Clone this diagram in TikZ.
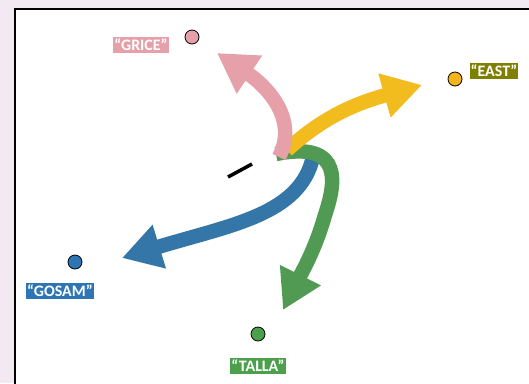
\documentclass[tikz,border=0pt]{standalone}
\usepackage{fontspec}
\setmainfont{Carlito}
\usetikzlibrary{arrows.meta}
\definecolor{bgLilac}{RGB}{243,233,243}
\definecolor{griceCol}{RGB}{229,160,170}
\definecolor{eastCol}{RGB}{242,187,30}
\definecolor{eastTag}{RGB}{128,128,0}
\definecolor{gosamCol}{RGB}{52,118,168}
\definecolor{gosamTag}{RGB}{46,117,182}
\definecolor{tallaCol}{RGB}{80,154,84}
\definecolor{tallaTag}{RGB}{76,160,76}
\tikzstyle{dotNode}=[draw,circle,minimum size=14bp,inner sep=0pt,line width=0.8bp]
\tikzstyle{tagNode}=[text=white,font=\bfseries\fontsize{16}{19}\selectfont,inner xsep=1bp,inner ysep=2.5bp]
\tikzstyle{bigArrow}=[line width=14.5bp,-{Triangle[length=39bp,width=43bp]}]

\begin{document}
\begin{tikzpicture}[x=1bp,y=-1bp]
	\useasboundingbox (0,0) rectangle (529,383);
	\clip (0,0) rectangle (529,383);
	\fill[bgLilac] (0,0) rectangle (529,383);
	\draw[line width=1.6bp,fill=white] (15,9) rectangle (545,400);

	\node[dotNode, fill=griceCol] (griceDot) at (192,37) {};
	\node[dotNode, fill=eastCol!90!orange] (eastDot) at (455,79) {};
	\node[dotNode, fill=gosamTag] (gosamDot) at (75,262) {};
	\node[dotNode, fill=tallaTag] (tallaDot) at (258,334) {};

	\node[tagNode, fill=griceCol] (griceTag) at (141,45) {“GRICE”};
	\node[tagNode, fill=eastTag] (eastTag) at (494,71) {“EAST”};
	\node[tagNode, fill=gosamTag] (gosamTag) at (60,291) {“GOSAM”};
	\node[tagNode, fill=tallaTag] (tallaTag) at (258,366) {“TALLA”};

	\coordinate (pinkFoot) at (279,157);
	\coordinate (yellowFoot) at (287,150);
	\coordinate (blueFoot) at (313,157);
	\coordinate (greenFoot) at (276,154);
	\coordinate (pinkTip) at (217,53);
	\coordinate (yellowTip) at (422,85);
	\coordinate (blueTip) at (122,258);
	\coordinate (greenTip) at (283,310);

	\draw[bigArrow, gosamCol] (blueFoot) .. controls (300,215) and (230,225) .. (blueTip);
	\draw[bigArrow, tallaCol] (greenFoot) .. controls (345,140) and (335,185) .. (325,215)
		.. controls (315,250) and (302,272) .. (greenTip);
	\draw[bigArrow, eastCol] (yellowFoot) .. controls (320,120) and (350,105) .. (yellowTip);
	\draw[bigArrow, griceCol] (pinkFoot) .. controls (299,118) and (265,85) .. (pinkTip);

	\draw[line width=3.5bp] (228,177) -- (252,164);
\end{tikzpicture}
\end{document}
